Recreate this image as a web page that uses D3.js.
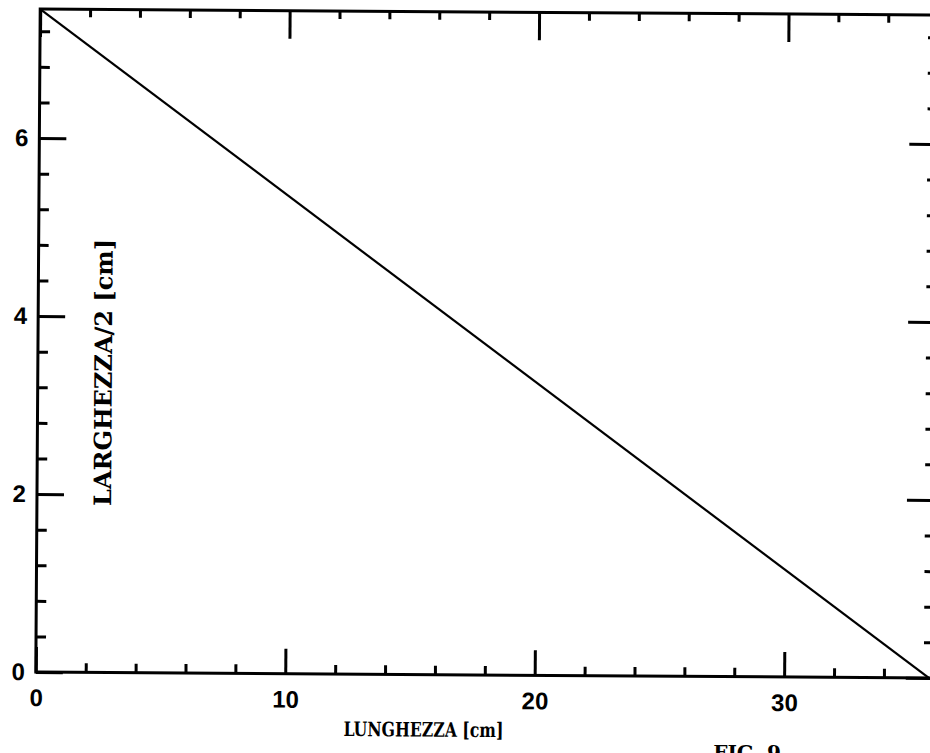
<!DOCTYPE html>
<html>
<head>
<meta charset="utf-8">
<script src="https://cdn.jsdelivr.net/npm/d3@7"></script>
<style>
  body { margin: 0; background: #fff; }
  svg { display: block; }
  .tick text { font-family: "Liberation Sans", Arial, sans-serif; font-weight: bold; font-size: 24px; fill: #000; }
  .title { font-family: "DejaVu Serif", serif; font-weight: bold; fill: #000; }
</style>
</head>
<body>
<svg id="chart" width="930" height="753"></svg>
<script>
// DATA -----------------------------------------------------------------
const lunghezza = [0, 35.8];          // cm
const larghezzaMezza = [7.45, 0];     // cm

const xMajorTicks = [0, 10, 20, 30];
const xMinorTicks = [2, 4, 6, 8, 12, 14, 16, 18, 22, 24, 26, 28, 32, 34];
const yMajorTicks = [0, 2, 4, 6];
const yMinorTicks = [0.4, 0.8, 1.2, 1.6, 2.4, 2.8, 3.2, 3.6, 4.4, 4.8, 5.2, 5.6, 6.4, 6.8, 7.2];

const xDomain = [0, 36];
const yDomain = [0, 7.45];

// SET UP ---------------------------------------------------------------
const svg = d3.select("#chart");
const mLeft = 38, mRight = 936, mTop = 12, mBottom = 675;

// the scan is slightly tilted
const g = svg.append("g").attr("transform", "rotate(0.38, 487, 343)");

const xScale = d3.scaleLinear().domain(xDomain).range([mLeft, mRight]);
const yScale = d3.scaleLinear().domain(yDomain).range([mBottom, mTop]);

const styleAxis = sel => {
    sel.select(".domain").remove();
    sel.selectAll(".tick line").attr("stroke", "#000").attr("stroke-width", 3);
};

// bottom axis
g.append("g").attr("transform", `translate(0,${mBottom})`)
    .call(d3.axisBottom(xScale).tickValues(xMajorTicks).tickSize(-25).tickPadding(17).tickFormat(d3.format("d")))
    .call(styleAxis);
g.append("g").attr("transform", `translate(0,${mBottom})`)
    .call(d3.axisBottom(xScale).tickValues(xMinorTicks).tickSize(-9).tickFormat(""))
    .call(styleAxis);

// top axis
g.append("g").attr("transform", `translate(0,${mTop})`)
    .call(d3.axisTop(xScale).tickValues(xMajorTicks).tickSize(-28).tickFormat(""))
    .call(styleAxis);
g.append("g").attr("transform", `translate(0,${mTop})`)
    .call(d3.axisTop(xScale).tickValues(xMinorTicks).tickSize(-8).tickFormat(""))
    .call(styleAxis);

// left axis
g.append("g").attr("transform", `translate(${mLeft},0)`)
    .call(d3.axisLeft(yScale).tickValues(yMajorTicks).tickSize(-27).tickPadding(11).tickFormat(d3.format("d")))
    .call(styleAxis);
g.append("g").attr("transform", `translate(${mLeft},0)`)
    .call(d3.axisLeft(yScale).tickValues(yMinorTicks).tickSize(-10).tickFormat(""))
    .call(styleAxis);

// right axis
g.append("g").attr("transform", `translate(${mRight},0)`)
    .call(d3.axisRight(yScale).tickValues(yMajorTicks).tickSize(-28).tickFormat(""))
    .call(styleAxis);
g.append("g").attr("transform", `translate(${mRight},0)`)
    .call(d3.axisRight(yScale).tickValues(yMinorTicks).tickSize(-10).tickFormat(""))
    .call(styleAxis);

// frame
g.append("rect")
    .attr("x", mLeft).attr("y", mTop)
    .attr("width", mRight - mLeft).attr("height", mBottom - mTop)
    .attr("fill", "none").attr("stroke", "#000").attr("stroke-width", 3);

// line
const line = d3.line()
    .x((d, i) => xScale(lunghezza[i]))
    .y(d => yScale(d));

g.append("path")
    .datum(larghezzaMezza)
    .attr("fill", "none")
    .attr("stroke", "#000")
    .attr("stroke-width", 2.2)
    .attr("d", line);

// titles
g.append("text").attr("class", "title")
    .attr("x", 426).attr("y", 737)
    .attr("text-anchor", "middle")
    .attr("textLength", 160)
    .attr("lengthAdjust", "spacingAndGlyphs")
    .style("font-size", "20px")
    .text("LUNGHEZZA [cm]");

g.append("text").attr("class", "title")
    .attr("transform", "translate(112,375) rotate(-90)")
    .attr("text-anchor", "middle")
    .style("font-size", "24px")
    .text("LARGHEZZA/2 [cm]");

g.append("text").attr("class", "title")
    .attr("x", 716).attr("y", 758)
    .style("font-size", "20px")
    .text("FIG. 9");
</script>
</body>
</html>
